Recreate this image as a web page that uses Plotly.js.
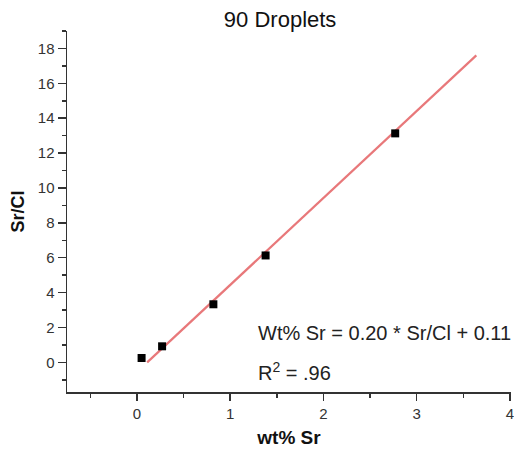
<!DOCTYPE html>
<html>
<head>
<meta charset="utf-8">
<script src="https://cdn.plot.ly/plotly-3.0.1.min.js"></script>
<style>html,body{margin:0;padding:0;background:#fff;}#chart{width:514px;height:449px;}</style>
</head>
<body>
<div id="chart"></div>
<script>
// Data
const wtSr = [0.05, 0.27, 0.82, 1.38, 2.77];
const srCl = [0.25, 0.92, 3.33, 6.13, 13.13];
// Fit line: Wt% Sr = 0.20 * Sr/Cl + 0.11
const fitX = [0.11, 3.64];
const fitY = [0, 17.6];
const xTicks = [0, 1, 2, 3, 4];
const yTicks = [0, 2, 4, 6, 8, 10, 12, 14, 16, 18];

const traces = [
  {x: fitX, y: fitY, mode: 'lines', type: 'scatter',
   line: {color: '#e8787a', width: 2.2}, hoverinfo: 'skip'},
  {x: wtSr, y: srCl, mode: 'markers', type: 'scatter',
   marker: {symbol: 'square', size: 8, color: '#000'}}
];

const FONT = 'Liberation Sans, Arial, sans-serif';
const axisCommon = {
  showgrid: false, zeroline: false, showline: true,
  linecolor: '#333', linewidth: 1.5,
  ticks: 'outside', tickcolor: '#333', tickwidth: 1.5,
  ticklabeloverflow: 'allow',
  tickfont: {family: FONT, size: 15, color: '#333'}
};

const layout = {
  width: 514, height: 449,
  margin: {l: 67, r: 3, t: 31, b: 57},
  paper_bgcolor: '#fff', plot_bgcolor: '#fff',
  showlegend: false,
  title: {text: '90 Droplets', xref: 'container', x: 0.545, xanchor: 'center',
          yref: 'container', y: 0.958, yanchor: 'middle',
          font: {family: FONT, size: 22, color: '#111'}},
  xaxis: Object.assign({}, axisCommon, {
    range: [-0.75, 4.012], tickvals: xTicks, ticktext: xTicks.map(String), ticklen: 7,
    minor: {dtick: 0.5, tick0: 0, ticks: 'outside', ticklen: 4, tickcolor: '#333', tickwidth: 1.5},
    title: {text: '<b>wt% Sr</b>', standoff: 10,
            font: {family: FONT, size: 19, color: '#111'}}
  }),
  yaxis: Object.assign({}, axisCommon, {
    range: [-1.7, 19], tickvals: yTicks, ticktext: yTicks.map(String), ticklen: 8,
    minor: {dtick: 1, tick0: 0, ticks: 'outside', ticklen: 4, tickcolor: '#333', tickwidth: 1.5},
    title: {text: '<b>Sr/Cl</b>', standoff: 8,
            font: {family: FONT, size: 18, color: '#111'}}
  }),
  annotations: [
    {x: 1.28, y: 1.66, xref: 'x', yref: 'y', xanchor: 'left', yanchor: 'middle',
     text: 'Wt% Sr = 0.20 * Sr/Cl + 0.11', showarrow: false,
     font: {family: FONT, size: 20, color: '#222'}},
    {x: 1.28, y: -0.55, xref: 'x', yref: 'y', xanchor: 'left', yanchor: 'middle',
     text: 'R<sup>2</sup> = .96', showarrow: false,
     font: {family: FONT, size: 20, color: '#222'}}
  ]
};

Plotly.newPlot('chart', traces, layout, {displayModeBar: false, staticPlot: true});
</script>
</body>
</html>
